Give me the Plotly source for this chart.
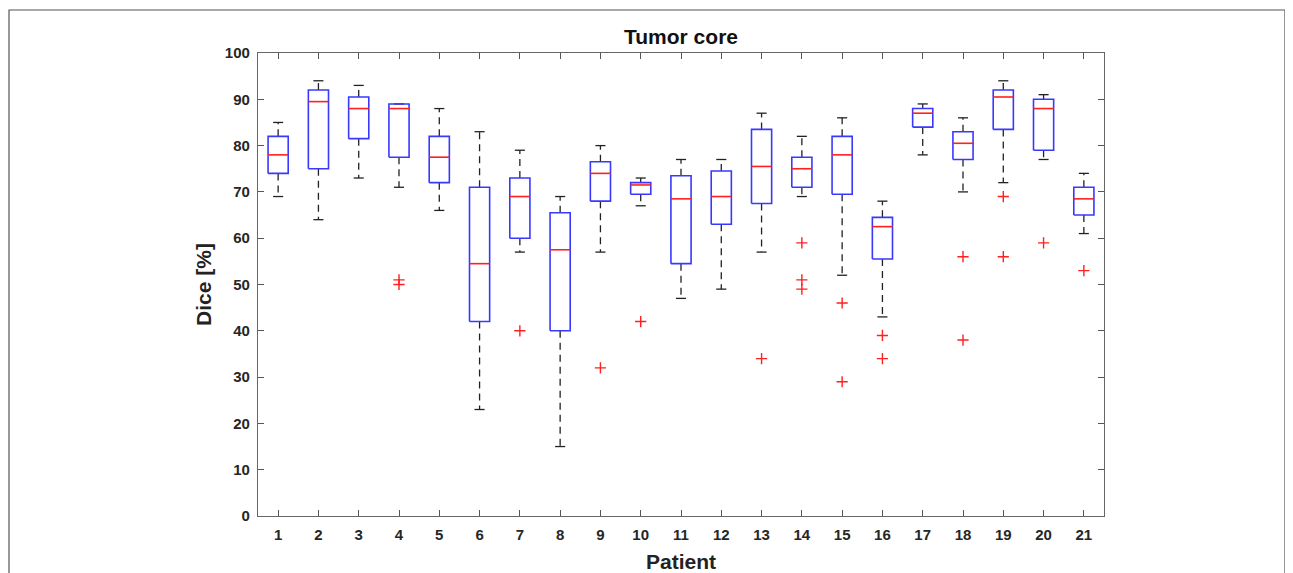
import plotly.graph_objects as go

patients = list(range(1, 22))
q1 =       [74, 75, 81.5, 77.5, 72, 42, 60, 40, 68, 69.5, 54.5, 63, 67.5, 71, 69.5, 55.5, 84, 77, 83.5, 79, 65]
median =   [78, 89.5, 88, 88, 77.5, 54.5, 69, 57.5, 74, 71.5, 68.5, 69, 75.5, 75, 78, 62.5, 87, 80.5, 90.5, 88, 68.5]
q3 =       [82, 92, 90.5, 89, 82, 71, 73, 65.5, 76.5, 72, 73.5, 74.5, 83.5, 77.5, 82, 64.5, 88, 83, 92, 90, 71]
w_low =    [69, 64, 73, 71, 66, 23, 57, 15, 57, 67, 47, 49, 57, 69, 52, 43, 78, 70, 72, 77, 61]
w_high =   [85, 94, 93, 89, 88, 83, 79, 69, 80, 73, 77, 77, 87, 82, 86, 68, 89, 86, 94, 91, 74]
outliers = {4: [51, 50], 7: [40], 9: [32], 10: [42], 13: [34], 14: [59, 51, 49],
            15: [46, 29], 16: [39, 34], 18: [56, 38], 19: [69, 56], 20: [59], 21: [53]}

bw = 0.25   # half box width
cw = 0.125  # half cap width

box_x, box_y, med_x, med_y = [], [], [], []
wh_x, wh_y, cap_x, cap_y = [], [], [], []
for p, a, m, b, lo, hi in zip(patients, q1, median, q3, w_low, w_high):
    box_x += [p - bw, p + bw, p + bw, p - bw, p - bw, None]
    box_y += [a, a, b, b, a, None]
    med_x += [p - bw, p + bw, None]
    med_y += [m, m, None]
    wh_x += [p, p, None, p, p, None]
    wh_y += [b, hi, None, a, lo, None]
    cap_x += [p - cw, p + cw, None, p - cw, p + cw, None]
    cap_y += [hi, hi, None, lo, lo, None]

out_x, out_y = [], []
for p, vals in outliers.items():
    for v in vals:
        out_x.append(p)
        out_y.append(v)

fig = go.Figure()
fig.add_trace(go.Scatter(x=wh_x, y=wh_y, mode="lines",
                         line=dict(color="#222222", width=1.3, dash="7px,5px"), hoverinfo="skip"))
fig.add_trace(go.Scatter(x=cap_x, y=cap_y, mode="lines",
                         line=dict(color="#222222", width=1.3), hoverinfo="skip"))
fig.add_trace(go.Scatter(x=box_x, y=box_y, mode="lines",
                         line=dict(color="#3838ff", width=1.6), hoverinfo="skip"))
fig.add_trace(go.Scatter(x=med_x, y=med_y, mode="lines",
                         line=dict(color="#ff2020", width=1.6), hoverinfo="skip"))
fig.add_trace(go.Scatter(x=out_x, y=out_y, mode="markers",
                         marker=dict(symbol="cross-thin", size=8,
                                     line=dict(color="#ff2020", width=1.4)),
                         hoverinfo="skip"))

# page body has an 8px margin; figure coords = screen coords - 8
W, H = 1285, 565
L, T = 250, 45
R = W - 1096
B = H - 508
pw, ph = W - L - R, H - T - B

fig.add_shape(type="rect", xref="paper", yref="paper",
              x0=(1 - L) / pw, x1=(1277 - L) / pw,
              y0=-0.3, y1=1 + (T - 2) / ph,
              line=dict(color="#555555", width=1.2), layer="below")

fig.update_layout(
    width=W, height=H,
    margin=dict(l=L, r=R, t=T, b=B, autoexpand=False),
    paper_bgcolor="white", plot_bgcolor="white",
    showlegend=False,
    font=dict(family="Liberation Sans, Arial, sans-serif", color="#262626"),
    title=dict(text="<b>Tumor core</b>", x=(L + pw / 2) / W, xanchor="center",
               y=1 - 29 / H, yanchor="middle", font=dict(size=21, color="#111111")),
)
fig.update_xaxes(range=[0.5, 21.5], tickvals=patients, ticktext=[f"<b>{p}</b>" for p in patients],
                 ticks="inside", ticklen=6, tickcolor="#555555", tickwidth=1,
                 showline=True, linecolor="#666666", linewidth=1.2, mirror="ticks",
                 showgrid=False, zeroline=False, tickfont=dict(size=15),
                 ticklabelstandoff=5, automargin=False,
                 title=dict(text="<b>Patient</b>", font=dict(size=21, color="#222222"), standoff=12))
fig.update_yaxes(range=[0, 100], tickvals=list(range(0, 101, 10)),
                 ticktext=[f"<b>{v}</b>" for v in range(0, 101, 10)],
                 ticks="inside", ticklen=6, tickcolor="#555555", tickwidth=1,
                 showline=True, linecolor="#666666", linewidth=1.2, mirror="ticks",
                 showgrid=False, zeroline=False, tickfont=dict(size=15),
                 ticklabelstandoff=4, automargin=False,
                 title=dict(text="<b>Dice [%]</b>", font=dict(size=21, color="#222222"), standoff=7))

fig.write_html("out.html")
